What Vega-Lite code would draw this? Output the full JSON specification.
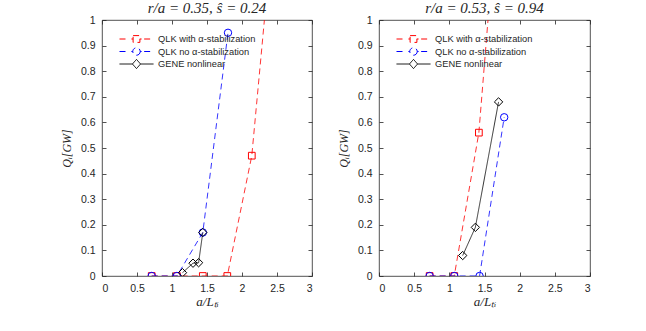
{
  "$schema": "https://vega.github.io/schema/vega-lite/v6.json",
  "background": "white",
  "padding": {"left": 60, "top": 0, "right": 0, "bottom": 0},
  "spacing": 24,
  "config": {
    "view": {"stroke": "#262626", "strokeWidth": 0.8},
    "axis": {
      "grid": false, "domain": false,
      "tickSize": -4, "tickColor": "#262626", "tickWidth": 0.8,
      "labelFont": "Liberation Sans", "labelFontSize": 10.5, "labelColor": "#262626", "labelPadding": 11,
      "titleFont": "Liberation Serif", "titleFontStyle": "italic", "titleFontWeight": "normal", "titleFontSize": 13, "titleColor": "#262626"
    },
    "title": {"font": "Liberation Serif", "fontStyle": "italic", "fontWeight": "normal", "fontSize": 15, "color": "#262626", "offset": -1},
    "legend": {"labelFont": "Liberation Sans", "labelFontSize": 9.3, "labelColor": "#262626"}
  },
  "datasets": {
    "d": [
      {"p": "L", "s": "QLK with  α-stabilization", "x": 0.71, "y": 0},
      {"p": "L", "s": "QLK with  α-stabilization", "x": 1.07, "y": 0},
      {"p": "L", "s": "QLK with  α-stabilization", "x": 1.44, "y": 0},
      {"p": "L", "s": "QLK with  α-stabilization", "x": 1.79, "y": 0},
      {"p": "L", "s": "QLK with  α-stabilization", "x": 2.14, "y": 0.47},
      {"p": "L", "s": "QLK with  α-stabilization", "x": 2.5, "y": 1.53},
      {"p": "L", "s": "QLK no  α-stabilization", "x": 0.71, "y": 0},
      {"p": "L", "s": "QLK no  α-stabilization", "x": 1.07, "y": 0},
      {"p": "L", "s": "QLK no  α-stabilization", "x": 1.44, "y": 0.17},
      {"p": "L", "s": "QLK no  α-stabilization", "x": 1.8, "y": 0.95},
      {"p": "L", "s": "GENE nonlinear", "x": 1.15, "y": 0.013},
      {"p": "L", "s": "GENE nonlinear", "x": 1.3, "y": 0.05},
      {"p": "L", "s": "GENE nonlinear", "x": 1.38, "y": 0.052},
      {"p": "L", "s": "GENE nonlinear", "x": 1.44, "y": 0.17},
      {"p": "R", "s": "QLK with  α-stabilization", "x": 0.72, "y": 0},
      {"p": "R", "s": "QLK with  α-stabilization", "x": 1.07, "y": 0},
      {"p": "R", "s": "QLK with  α-stabilization", "x": 1.42, "y": 0.56},
      {"p": "R", "s": "QLK with  α-stabilization", "x": 1.78, "y": 1.78},
      {"p": "R", "s": "QLK no  α-stabilization", "x": 0.72, "y": 0},
      {"p": "R", "s": "QLK no  α-stabilization", "x": 1.07, "y": 0},
      {"p": "R", "s": "QLK no  α-stabilization", "x": 1.43, "y": 0},
      {"p": "R", "s": "QLK no  α-stabilization", "x": 1.78, "y": 0.62},
      {"p": "R", "s": "GENE nonlinear", "x": 1.19, "y": 0.08},
      {"p": "R", "s": "GENE nonlinear", "x": 1.37, "y": 0.19},
      {"p": "R", "s": "GENE nonlinear", "x": 1.7, "y": 0.68}
    ]
  },
  "hconcat": [
    {
      "width": 210, "height": 256,
      "title": "r/a = 0.35, ŝ = 0.24",
      "data": {"name": "d"},
      "transform": [{"filter": "datum.p == 'L'"}],
      "resolve": {"axis": {"x": "independent", "y": "independent"}},
      "layer": [
        {
          "mark": {"type": "line", "strokeWidth": 0.8, "clip": true},
          "encoding": {
            "x": {"field": "x", "type": "quantitative", "scale": {"domain": [0, 3], "nice": false}, "axis": {"values": [0, 0.5, 1, 1.5, 2, 2.5, 3], "format": "~g", "title": "a/Lₜᵢ", "titlePadding": 2}},
            "y": {"field": "y", "type": "quantitative", "scale": {"domain": [0, 1], "nice": false}, "axis": {"values": [0, 0.1, 0.2, 0.3, 0.4, 0.5, 0.6, 0.7, 0.8, 0.9, 1], "format": "~g", "title": "Qᵢ[GW]", "titlePadding": 7, "titleFontSize": 12}},
            "stroke": {"field": "s", "type": "nominal", "scale": {"domain": ["QLK with  α-stabilization", "QLK no  α-stabilization", "GENE nonlinear"], "range": ["#ff0000", "#0000ff", "#000000"]},
              "legend": {"title": null, "orient": "none", "legendX": 17, "legendY": 14, "padding": 0, "symbolSize": 1156, "clipHeight": 10, "rowPadding": 1.5, "labelOffset": 4, "symbolStrokeWidth": 1,
                "encode": {"symbols": {"update": {"shape": {"signal": "datum.value == 'GENE nonlinear' ? 'M-1,0H-0.24M0.24,0H1M0,-0.27L0.24,0L0,0.27L-0.24,0Z' : datum.value == 'QLK no  α-stabilization' ? 'M-1,0H-0.45M-0.3,0H-0.22M0.22,0H0.3M0.45,0H1M0.22,0A0.22,0.22 0 1,1 -0.22,0A0.22,0.22 0 1,1 0.22,0Z' : 'M-1,0H-0.45M-0.3,0H-0.2M0.2,0H0.3M0.45,0H1M-0.2,-0.2H0.2V0.2H-0.2Z'"}, "strokeDash": {"value": [1, 0]}, "fill": {"value": "transparent"}}}}}},
            "strokeDash": {"field": "s", "type": "nominal", "scale": {"domain": ["QLK with  α-stabilization", "QLK no  α-stabilization", "GENE nonlinear"], "range": [[6, 4], [6, 4], [1, 0]]}, "legend": null},
            "order": {"field": "x"}
          }
        },
        {
          "transform": [{"filter": "datum.s == 'QLK with  α-stabilization'"}],
          "mark": {"type": "point", "shape": "square", "size": 45, "filled": false, "color": "#ff0000", "opacity": 1, "strokeWidth": 1, "clip": true},
          "encoding": {
            "x": {"field": "x", "type": "quantitative", "axis": {"orient": "top", "labels": false, "title": null, "minExtent": 0, "maxExtent": 0, "values": [0, 0.5, 1, 1.5, 2, 2.5, 3]}},
            "y": {"field": "y", "type": "quantitative", "axis": {"orient": "right", "labels": false, "title": null, "minExtent": 0, "maxExtent": 0, "values": [0, 0.1, 0.2, 0.3, 0.4, 0.5, 0.6, 0.7, 0.8, 0.9, 1]}}
          }
        },
        {
          "transform": [{"filter": "datum.s == 'QLK no  α-stabilization'"}],
          "mark": {"type": "point", "shape": "circle", "size": 55, "filled": false, "color": "#0000ff", "opacity": 1, "strokeWidth": 1, "clip": true},
          "encoding": {"x": {"field": "x", "type": "quantitative", "axis": null}, "y": {"field": "y", "type": "quantitative", "axis": null}}
        },
        {
          "transform": [{"filter": "datum.s == 'GENE nonlinear'"}],
          "mark": {"type": "point", "shape": "diamond", "size": 70, "filled": false, "color": "#000000", "opacity": 1, "strokeWidth": 1, "clip": true},
          "encoding": {"x": {"field": "x", "type": "quantitative", "axis": null}, "y": {"field": "y", "type": "quantitative", "axis": null}}
        }
      ]
    },
    {
      "width": 211, "height": 256,
      "title": "r/a = 0.53, ŝ = 0.94",
      "data": {"name": "d"},
      "transform": [{"filter": "datum.p == 'R'"}],
      "resolve": {"axis": {"x": "independent", "y": "independent"}},
      "layer": [
        {
          "mark": {"type": "line", "strokeWidth": 0.8, "clip": true},
          "encoding": {
            "x": {"field": "x", "type": "quantitative", "scale": {"domain": [0, 3], "nice": false}, "axis": {"values": [0, 0.5, 1, 1.5, 2, 2.5, 3], "format": "~g", "title": "a/Lₜᵢ", "titlePadding": 2}},
            "y": {"field": "y", "type": "quantitative", "scale": {"domain": [0, 1], "nice": false}, "axis": {"values": [0, 0.1, 0.2, 0.3, 0.4, 0.5, 0.6, 0.7, 0.8, 0.9, 1], "format": "~g", "title": "Qᵢ[GW]", "titlePadding": 7, "titleFontSize": 12}},
            "stroke": {"field": "s", "type": "nominal", "scale": {"domain": ["QLK with  α-stabilization", "QLK no  α-stabilization", "GENE nonlinear"], "range": ["#ff0000", "#0000ff", "#000000"]},
              "legend": {"title": null, "orient": "none", "legendX": 17, "legendY": 14, "padding": 0, "symbolSize": 1156, "clipHeight": 10, "rowPadding": 1.5, "labelOffset": 4, "symbolStrokeWidth": 1,
                "encode": {"symbols": {"update": {"shape": {"signal": "datum.value == 'GENE nonlinear' ? 'M-1,0H-0.24M0.24,0H1M0,-0.27L0.24,0L0,0.27L-0.24,0Z' : datum.value == 'QLK no  α-stabilization' ? 'M-1,0H-0.45M-0.3,0H-0.22M0.22,0H0.3M0.45,0H1M0.22,0A0.22,0.22 0 1,1 -0.22,0A0.22,0.22 0 1,1 0.22,0Z' : 'M-1,0H-0.45M-0.3,0H-0.2M0.2,0H0.3M0.45,0H1M-0.2,-0.2H0.2V0.2H-0.2Z'"}, "strokeDash": {"value": [1, 0]}, "fill": {"value": "transparent"}}}}}},
            "strokeDash": {"field": "s", "type": "nominal", "scale": {"domain": ["QLK with  α-stabilization", "QLK no  α-stabilization", "GENE nonlinear"], "range": [[6, 4], [6, 4], [1, 0]]}, "legend": null},
            "order": {"field": "x"}
          }
        },
        {
          "transform": [{"filter": "datum.s == 'QLK with  α-stabilization'"}],
          "mark": {"type": "point", "shape": "square", "size": 45, "filled": false, "color": "#ff0000", "opacity": 1, "strokeWidth": 1, "clip": true},
          "encoding": {
            "x": {"field": "x", "type": "quantitative", "axis": {"orient": "top", "labels": false, "title": null, "minExtent": 0, "maxExtent": 0, "values": [0, 0.5, 1, 1.5, 2, 2.5, 3]}},
            "y": {"field": "y", "type": "quantitative", "axis": {"orient": "right", "labels": false, "title": null, "minExtent": 0, "maxExtent": 0, "values": [0, 0.1, 0.2, 0.3, 0.4, 0.5, 0.6, 0.7, 0.8, 0.9, 1]}}
          }
        },
        {
          "transform": [{"filter": "datum.s == 'QLK no  α-stabilization'"}],
          "mark": {"type": "point", "shape": "circle", "size": 55, "filled": false, "color": "#0000ff", "opacity": 1, "strokeWidth": 1, "clip": true},
          "encoding": {"x": {"field": "x", "type": "quantitative", "axis": null}, "y": {"field": "y", "type": "quantitative", "axis": null}}
        },
        {
          "transform": [{"filter": "datum.s == 'GENE nonlinear'"}],
          "mark": {"type": "point", "shape": "diamond", "size": 70, "filled": false, "color": "#000000", "opacity": 1, "strokeWidth": 1, "clip": true},
          "encoding": {"x": {"field": "x", "type": "quantitative", "axis": null}, "y": {"field": "y", "type": "quantitative", "axis": null}}
        }
      ]
    }
  ],
  "resolve": {
    "scale": {"stroke": "independent", "strokeDash": "independent"},
    "legend": {"stroke": "independent", "strokeDash": "independent"}
  }
}
